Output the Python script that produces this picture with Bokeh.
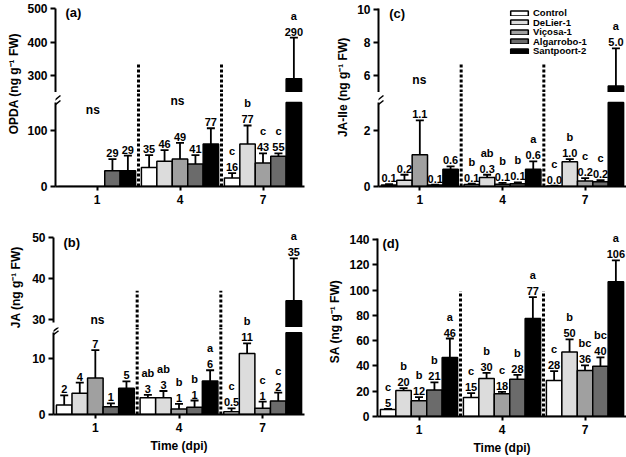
from math import pi
import numpy as np
from bokeh.plotting import figure
from bokeh.models import (ColumnDataSource, FactorRange, Range1d, LabelSet, Label,
                          Legend, LegendItem, FixedTicker)
from bokeh.transform import dodge
from bokeh.layouts import row, column
from bokeh.core.properties import value
from bokeh.embed import file_html
from bokeh.resources import INLINE

FONT = "Liberation Sans"

DPI = ["1", "4", "7"]
GENOTYPES = ["Control", "DeLier-1", "Viçosa-1", "Algarrobo-1", "Santpoort-2"]
COLORS = ["#ffffff", "#dcdcdc", "#a0a0a0", "#6b6b6b", "#000000"]

# (a) OPDA  rows = genotypes, cols = dpi
OPDA_MEAN = [[0, 34, 15], [0, 45, 76], [0, 49, 42], [28, 40, 54], [28, 76, 290]]
OPDA_ERR = [[0, 22, 9], [0, 20, 33], [0, 29, 17], [21, 16, 5], [27, 28, 123]]
OPDA_NUM = [["", "35", "16"], ["", "46", "77"], ["", "49", "43"], ["29", "41", "55"], ["29", "77", "290"]]
OPDA_LET = [["", "", "c"], ["", "", "b"], ["", "", "c"], ["", "", "c"], ["", "", "a"]]

# (b) JA
JA_MEAN = [[1.7, 3.0, 0.5], [3.8, 3.0, 10.9], [6.5, 1.0, 1.1], [1.4, 1.3, 2.4], [4.7, 6.0, 34.6]]
JA_ERR = [[1.7, 0.5, 0.6], [1.9, 1.2, 1.8], [5.0, 0.9, 1.2], [0.6, 1.2, 1.5], [1.2, 1.9, 10.3]]
JA_NUM = [["2", "3", "0.5"], ["4", "3", "11"], ["7", "1", "1"], ["1", "1", "2"], ["5", "6", "35"]]
JA_LET = [["", "ab", "c"], ["", "ab", "b"], ["", "b", "c"], ["", "b", "c"], ["", "a", "a"]]

# (c) JA-Ile
JAILE_MEAN = [[0.05, 0.07, 0.02], [0.22, 0.32, 0.88], [1.13, 0.08, 0.2], [0.05, 0.1, 0.17], [0.62, 0.62, 5.35]]
JAILE_ERR = [[0.03, 0.03, 0.01], [0.2, 0.1, 0.1], [1.23, 0.05, 0.1], [0.02, 0.05, 0.06], [0.1, 0.28, 2.3]]
JAILE_NUM = [["0.1", "0.1", "0.0"], ["0.2", "0.3", "1.0"], ["1.1", "0.1", "0.2"], ["0.1", "0.1", "0.2"], ["0.6", "0.6", "5.0"]]
JAILE_LET = [["", "b", "c"], ["", "ab", "b"], ["", "b", "c"], ["", "b", "c"], ["", "a", "a"]]

# (d) SA
SA_MEAN = [[5.5, 15, 28.5], [20.5, 30, 51], [12.4, 18, 36.4], [21, 29.5, 39.8], [46.7, 77.5, 106.5]]
SA_ERR = [[0.6, 3.5, 7.4], [2, 4.5, 10], [3, 1.5, 4], [6, 3.5, 7], [15, 17, 17]]
SA_NUM = [["5", "15", "28"], ["20", "30", "50"], ["12", "18", "36"], ["21", "28", "40"], ["46", "77", "106"]]
SA_LET = [["c", "c", "c"], ["b", "b", "b"], ["b", "c", "bc"], ["b", "b", "bc"], ["a", "a", "a"]]

BW = 0.186
OFFS = [(i - 2) * BW for i in range(5)]
NUM_OFF, LET_OFF, TEXT_H = 2, 16, 13


def style(p, ticks, show_x, bounds):
    p.xgrid.visible = False
    p.ygrid.visible = False
    p.outline_line_color = None
    ax = p.yaxis[0]
    ax.ticker = FixedTicker(ticks=ticks)
    ax.bounds = bounds
    for a in ([ax] + ([p.xaxis[0]] if show_x else [])):
        a.axis_line_width = 2
        a.major_tick_line_width = 2
        a.major_tick_in = 0
        a.minor_tick_line_color = None
        a.major_label_text_font = FONT
        a.major_label_text_font_size = "12px"
        a.major_label_text_font_style = "bold"
        a.major_label_text_color = "black"
        a.axis_label_text_font = FONT
        a.axis_label_text_font_size = "12px"
        a.axis_label_text_font_style = "bold"
        a.axis_label_text_color = "black"
    ax.major_tick_out = 5
    ax.major_label_standoff = 3
    if show_x:
        xa = p.xaxis[0]
        xa.major_tick_out = 4
        xa.major_label_standoff = 4
        xa.axis_label_standoff = 4
    else:
        p.xaxis.visible = False


def new_fig(w, h, borders, yr, bounds, ticks, show_x, sep_top, xlabel=None, ylabel=None):
    t, r, b, l = borders
    p = figure(width=w, height=h, x_range=FactorRange(factors=DPI), y_range=Range1d(*yr),
               output_backend="svg", toolbar_location=None,
               min_border_top=t, min_border_right=r, min_border_bottom=b, min_border_left=l)
    style(p, ticks, show_x, bounds)
    if xlabel:
        p.xaxis.axis_label = xlabel
    if ylabel:
        p.yaxis.axis_label = ylabel
        p.yaxis.axis_label_standoff = 4
    y0, y1 = yr[0], min(sep_top, yr[1])
    if y1 > y0:
        p.segment(x0=[1, 2], y0=[y0, y0], x1=[1, 2], y1=[y1, y1], line_dash="3 2",
                  line_width=3, line_color="black")
    return p


def add_bars(p, g, tops, bottom, eidx, mean, err):
    xd = dodge("x", OFFS[g], range=p.x_range)
    src = ColumnDataSource(dict(x=DPI, top=np.array(tops, dtype=float)))
    rr = p.vbar(x=xd, top="top", bottom=bottom, width=BW, source=src, fill_color=COLORS[g],
                line_color="black", line_width=1.5)
    esrc = ColumnDataSource(dict(x=[DPI[d] for d in eidx],
                                 y0=[mean[g][d] for d in eidx],
                                 y1=[mean[g][d] + err[g][d] for d in eidx]))
    p.segment(x0=xd, y0="y0", x1=xd, y1="y1", source=esrc, line_color="black", line_width=1.8)
    p.scatter(x=xd, y="y1", source=esrc, marker="dash", size=8, line_width=1.8,
              line_color="black")
    return rr


def add_labels(p, g, rows):
    """rows: list of (dpi index, y, text, y_offset)."""
    xd = dodge("x", OFFS[g], range=p.x_range)
    src = ColumnDataSource(dict(x=[DPI[d] for d, _, _, _ in rows], y=[y for _, y, _, _ in rows],
                                t=[t for _, _, t, _ in rows], o=[o for _, _, _, o in rows]))
    p.add_layout(LabelSet(x=xd, y="y", text="t", source=src, y_offset="o",
                          text_align="center", text_baseline="bottom",
                          text_font=value(FONT), text_font_size="11px",
                          text_font_style="bold", text_color="black"))


def broken_panel(w, borders_lr, up, low, data, brk, sep_top, xlabel=None):
    """up / low: dict(h, top, frame, yr, bounds, ticks). Upper frame bottom meets lower frame top."""
    mean, err, nums, lets = data
    l, r = borders_lr
    pu = new_fig(w, up["h"], (up["top"], r, 0, l), up["yr"], up["bounds"], up["ticks"],
                 False, sep_top)
    pl = new_fig(w, low["h"], (0, r, low["h"] - low["frame"], l), low["yr"], low["bounds"],
                 low["ticks"], True, sep_top, xlabel=xlabel)
    su = up["frame"] / (up["yr"][1] - up["yr"][0])
    sl = low["frame"] / (low["yr"][1] - low["yr"][0])
    up_rends = []
    for g in range(5):
        m = mean[g]
        up_rends.append(add_bars(pu, g, [v if v > brk else np.nan for v in m], up["yr"][0],
                                 [d for d in range(3) if err[g][d] > 0 and m[d] > brk], mean, err))
        add_bars(pl, g, [min(v, brk) for v in m], 0,
                 [d for d in range(3) if err[g][d] > 0 and m[d] <= brk], mean, err)
        ru, rl = [], []
        for d in range(3):
            cap = m[d] + err[g][d]
            for txt, off in ((nums[g][d], NUM_OFF), (lets[g][d], LET_OFF)):
                if not txt:
                    continue
                if cap > brk:
                    ru.append((d, cap, txt, off))
                    continue
                depth = (low["yr"][1] - cap) * sl  # px below the lower frame top
                if depth - off - TEXT_H < 0:
                    ru.append((d, up["yr"][0] - depth / su, txt, off))
                else:
                    rl.append((d, cap, txt, off))
        add_labels(pu, g, ru)
        add_labels(pl, g, rl)
    # break marks across the y axis, in the lower piece (gap region)
    dy = 4 / sl
    cs = [brk + (low["yr"][1] - brk) * 0.3, brk - 2 / sl]
    pl.segment(x0=[-0.06] * 2, y0=[c - dy for c in cs], x1=[0.06] * 2, y1=[c + dy for c in cs],
               line_color="black", line_width=1.5)
    return pu, pl, up_rends


def label(p, x, y, text, size="12px", align="center", style_="bold", angle=0.0):
    p.add_layout(Label(x=x, y=y, text=text, text_align=align, text_baseline="middle",
                       text_font=FONT, text_font_size=size, text_font_style=style_,
                       text_color="black", angle=angle))


def title_fig(w, h, text, x, y):
    p = figure(width=w, height=h, x_range=Range1d(0, 1), y_range=Range1d(0, 1),
               output_backend="svg", toolbar_location=None, min_border=0)
    p.axis.visible = False
    p.grid.visible = False
    p.outline_line_color = None
    label(p, x, y, text, angle=pi / 2)
    return p


LW, RW = 292, 272
LB, RB = (29, 12), (23, 0)
SUP = "\u207b\u00b9"

# (a)  upper frame page 8-92, lower frame page 92-186
a_up, a_low, _ = broken_panel(
    LW, LB,
    dict(h=92, top=8, frame=84, yr=(249.3, 500), bounds="auto", ticks=[300, 400, 500]),
    dict(h=120, frame=94, yr=(0, 167.9), bounds=(0, 150), ticks=[0, 100]),
    (OPDA_MEAN, OPDA_ERR, OPDA_NUM, OPDA_LET), 150, 336)
label(a_up, 0.12, 488, "(a)", size="13px", align="left")
label(a_low, 0.45, 136, "ns")
label(a_low, 1.47, 153.6, "ns")

# (c)
c_up, c_low, c_rends = broken_panel(
    RW, RB,
    dict(h=92, top=8, frame=84, yr=(4.96, 10.08), bounds="auto", ticks=[6, 8, 10]),
    dict(h=120, frame=94, yr=(0, 3.357), bounds=(0, 3.0), ticks=[0, 2]),
    (JAILE_MEAN, JAILE_ERR, JAILE_NUM, JAILE_LET), 3.0, 6.7)
label(c_up, 0.13, 9.77, "(c)", size="13px", align="left")
label(c_up, 0.494, 5.7, "ns")
ROW = 9.5
for g in range(5):
    c_up.add_layout(Legend(
        items=[LegendItem(label=GENOTYPES[g], renderers=[c_rends[g]])],
        location=(130, 81.2 - (9.0 + ROW * g)), padding=0, margin=0, spacing=0,
        glyph_width=22, glyph_height=6, label_height=14, label_standoff=3,
        label_text_font=FONT, label_text_font_size="9.5px", label_text_font_style="bold",
        label_text_color="black", label_text_baseline="alphabetic",
        border_line_color=None, background_fill_alpha=0))

# (b)  upper frame page 225-327, lower frame page 327-414
b_up, b_low, _ = broken_panel(
    LW, LB,
    dict(h=115, top=13, frame=102, yr=(28.05, 52.93), bounds=(29.27, 50), ticks=[30, 40, 50]),
    dict(h=130, frame=87, yr=(0, 15.54), bounds=(0, 14.6), ticks=[0, 10]),
    (JA_MEAN, JA_ERR, JA_NUM, JA_LET), 14.6, 37, xlabel="Time (dpi)")
label(b_up, 0.12, 48.8, "(b)", size="13px", align="left")
label(b_up, 0.526, 30.0, "ns")

# (d)
d = new_fig(310, 245, (14, 0, 41, 61), (0, 150.3), (0, 141), [0, 20, 40, 60, 80, 100, 120, 140],
            True, 99, xlabel="Time (dpi)", ylabel="SA (ng g" + SUP + " FW)")
for g in range(5):
    add_bars(d, g, SA_MEAN[g], 0, [k for k in range(3) if SA_ERR[g][k] > 0], SA_MEAN, SA_ERR)
    rows = []
    for k in range(3):
        cap = SA_MEAN[g][k] + SA_ERR[g][k]
        rows.append((k, cap, SA_NUM[g][k], NUM_OFF))
        rows.append((k, cap, SA_LET[g][k], LET_OFF))
    add_labels(d, g, rows)
label(d, 0.06, 137, "(d)", size="13px", align="left")

ta = title_fig(24, 212, "OPDA (ng g" + SUP + " FW)", 0.583, 0.608)
tc = title_fig(38, 212, "JA-Ile (ng g" + SUP + " FW)", 0.71, 0.59)
tb = title_fig(24, 245, "JA (ng g" + SUP + " FW)", 0.625, 0.68)

root = column(
    row(ta, column(a_up, a_low), tc, column(c_up, c_low)),
    row(tb, column(b_up, b_low), d),
)

open("out.html", "w").write(file_html(root, INLINE))
